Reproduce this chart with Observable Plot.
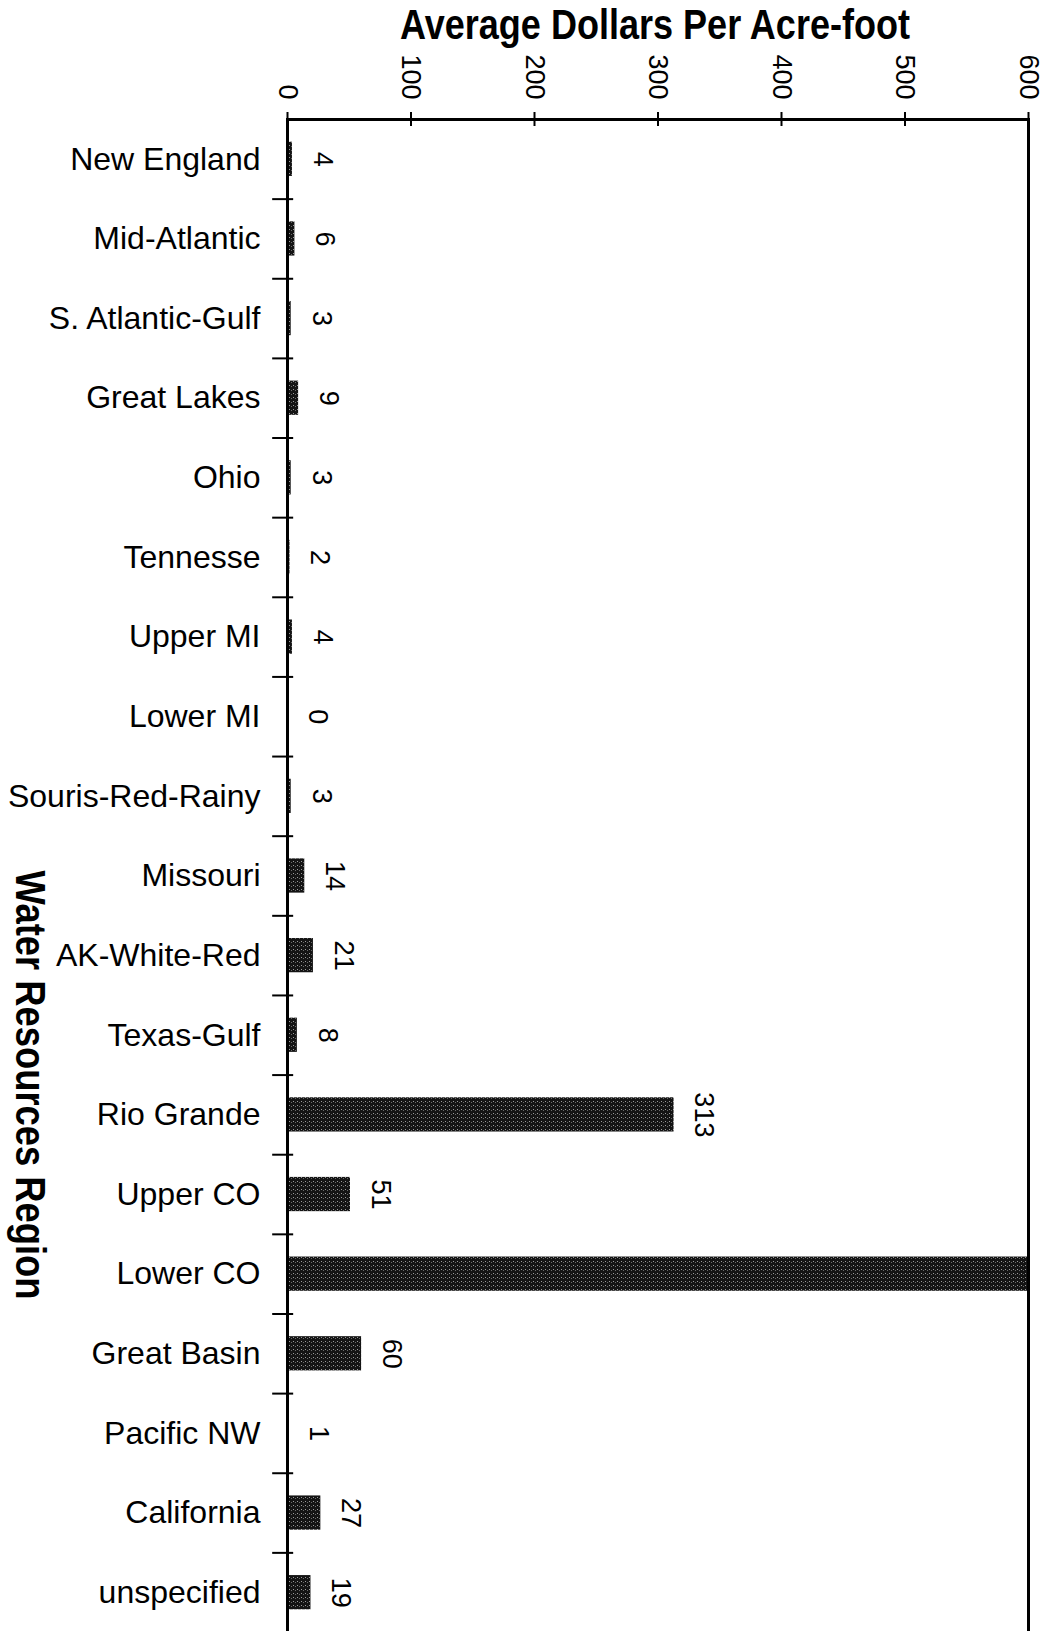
<!DOCTYPE html>
<html>
<head>
<meta charset="utf-8">
<script src="https://cdn.jsdelivr.net/npm/d3@7"></script>
<script src="https://cdn.jsdelivr.net/npm/@observablehq/plot@0.6"></script>
<style>
  html, body { margin: 0; padding: 0; background: white; }
  #chart svg { display: block; }
</style>
</head>
<body>
<div id="chart"></div>
<script>
// ---- data ----
const regions = ["New England", "Mid-Atlantic", "S. Atlantic-Gulf", "Great Lakes", "Ohio",
  "Tennesse", "Upper MI", "Lower MI", "Souris-Red-Rainy", "Missouri", "AK-White-Red",
  "Texas-Gulf", "Rio Grande", "Upper CO", "Lower CO", "Great Basin", "Pacific NW",
  "California", "unspecified"];
const dollars = [4, 6, 3, 9, 3, 2, 4, 0, 3, 14, 21, 8, 313, 51, 600, 60, 1, 27, 19];
const xTicks = [0, 100, 200, 300, 400, 500, 600];
const xTitle = "Average Dollars Per Acre-foot";
const yTitle = "Water Resources Region";

const data = regions.map((r, i) => ({region: r, value: dollars[i]}));

// ---- layout ----
const W = 1044, H = 1633, mT = 119, mB = 1, mL = 287, mR = 16;
const step = (H - mT - mB) / regions.length;

const chart = Plot.plot({
  width: W, height: H,
  marginTop: mT, marginBottom: mB, marginLeft: mL, marginRight: mR,
  style: {fontFamily: "'Liberation Sans', Arial, sans-serif", color: "black", background: "white", overflow: "visible"},
  x: {domain: [0, 600]},
  y: {domain: regions, paddingInner: 0.57, paddingOuter: 0.285, round: false},
  marks: [
    Plot.barX(data, {y: "region", x: "value", fill: "url(#stipple)"}),
    Plot.text(data, {y: "region", x: "value", text: d => String(d.value), rotate: 90, dx: 30, fontSize: 27, fill: "black"}),
    Plot.ruleY(regions.slice(0, -1), {y: d => d, x1: -12, x2: 5, dy: step / 2, stroke: "black", strokeWidth: 2}),
    Plot.frame({stroke: "black", strokeWidth: 3}),
    Plot.axisY({tickSize: 0, tickPadding: 27, fontSize: 32, label: null}),
    Plot.axisX({anchor: "top", ticks: xTicks, tickSize: 8, tickPadding: 12, tickRotate: 90, fontSize: 27, label: null, strokeWidth: 2}),
    Plot.axisX({anchor: "top", ticks: xTicks, tickSize: -6, tickFormat: () => "", label: null, strokeWidth: 2})
  ]
});

// stipple pattern for bar texture
const svg = d3.select(chart);
const defs = svg.insert("defs", ":first-child");
const pat = defs.append("pattern").attr("id", "stipple").attr("patternUnits", "userSpaceOnUse")
  .attr("width", 4).attr("height", 4);
pat.append("rect").attr("width", 4).attr("height", 4).attr("fill", "#141414");
pat.append("rect").attr("x", 1).attr("y", 1).attr("width", 1).attr("height", 1).attr("fill", "#9a9a9a");
pat.append("rect").attr("x", 3).attr("y", 2).attr("width", 1).attr("height", 1).attr("fill", "#6a6a6a");

// titles (condensed bold, as in the original)
const titleFont = "'Liberation Sans', Arial, sans-serif";
svg.append("text")
  .attr("x", 655).attr("y", 39)
  .attr("text-anchor", "middle")
  .attr("font-family", titleFont).attr("font-weight", "bold").attr("font-size", 43)
  .attr("textLength", 510).attr("lengthAdjust", "spacingAndGlyphs")
  .attr("fill", "black")
  .text(xTitle);
svg.append("text")
  .attr("transform", "translate(31,1085) rotate(90)")
  .attr("text-anchor", "middle").attr("dominant-baseline", "central")
  .attr("font-family", titleFont).attr("font-weight", "bold").attr("font-size", 43)
  .attr("textLength", 429).attr("lengthAdjust", "spacingAndGlyphs")
  .attr("fill", "black")
  .text(yTitle);

document.getElementById("chart").appendChild(chart);
</script>
</body>
</html>
